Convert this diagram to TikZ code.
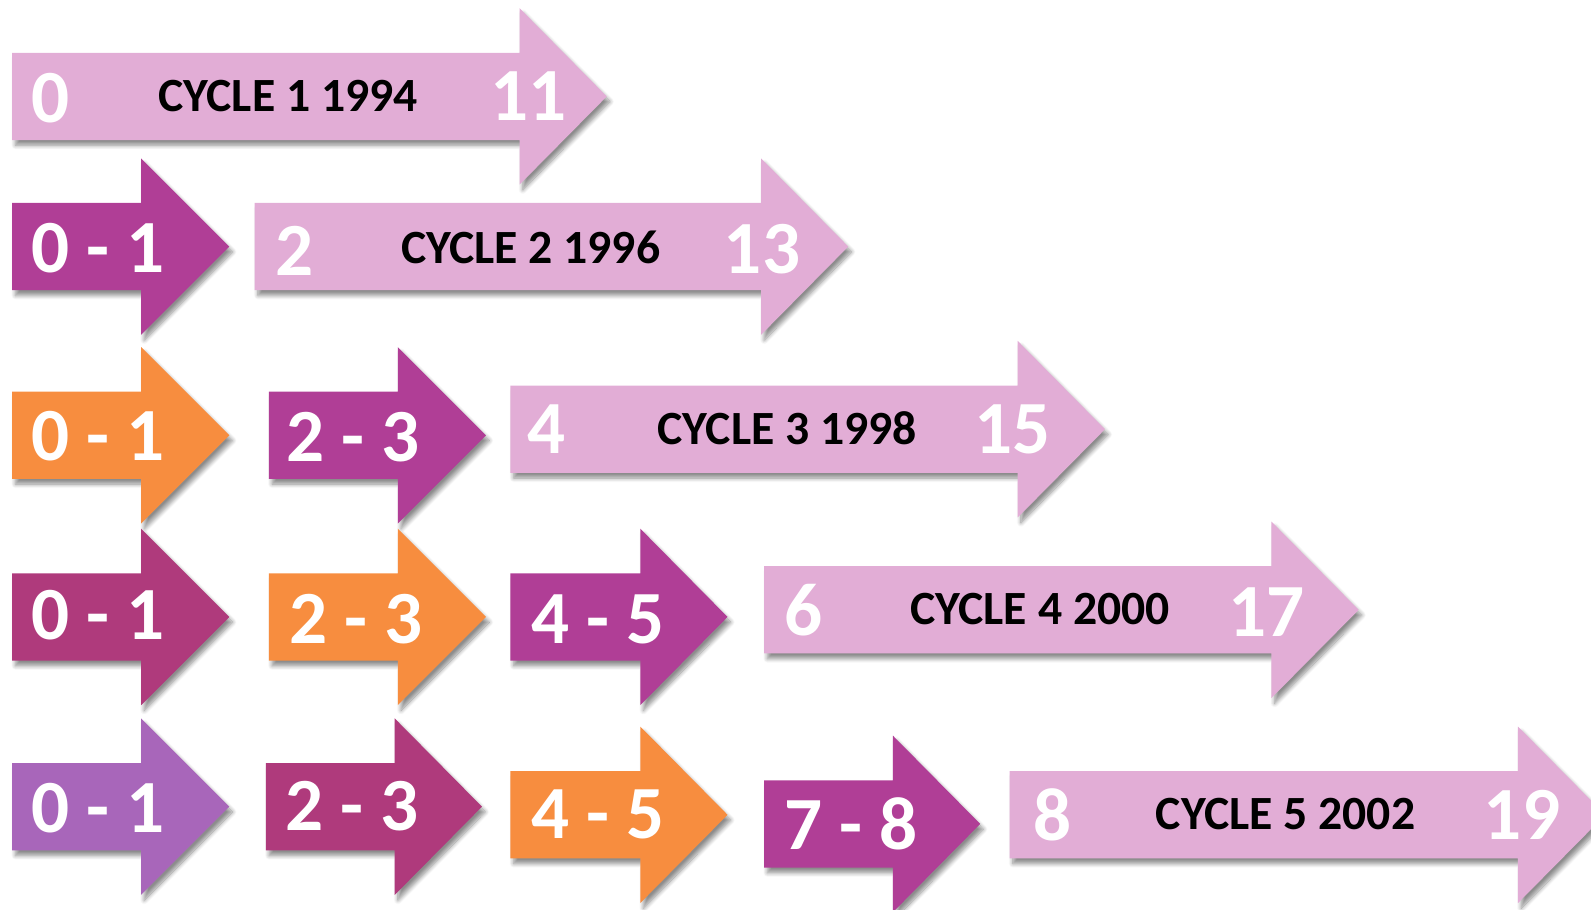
\documentclass[tikz,border=0pt]{standalone}
\usepackage{fontspec}
\setmainfont{Carlito}
\usetikzlibrary{shadows.blur}

\definecolor{lightpink}{HTML}{E2ADD6}
\definecolor{plum}{HTML}{B03E96}
\definecolor{berry}{HTML}{AF3A7C}
\definecolor{tangerine}{HTML}{F78D3F}
\definecolor{lilac}{HTML}{A866BA}

\tikzset{
  arrowfill/.style={fill=#1, draw=none,
    blur shadow={shadow xshift=1.6pt, shadow yshift=-2.6pt,
                 shadow blur radius=2pt, shadow blur steps=8, shadow opacity=45}},
  numlabel/.style={text=white, font=\bfseries\fontsize{37}{37}\selectfont, inner sep=0pt},
  cyclelabel/.style={text=black, font=\bfseries\fontsize{23.5}{23.5}\selectfont, inner sep=0pt},
}

% block arrow: fill colour, left end, head start, tip, centre line
\newcommand\blockarrow[5]{%
  \path[arrowfill=#1] (#2,#5-43) -- (#3,#5-43) -- (#3,#5-87) -- (#4,#5)
    -- (#3,#5+87) -- (#3,#5+43) -- (#2,#5+43) -- cycle;}

\begin{document}
\begin{tikzpicture}[x=0.5pt, y=-0.5pt]
\useasboundingbox (0,0) rectangle (1568,896);

% ---- cycle 1
\blockarrow{lightpink}{12}{512}{598}{95}
\node[numlabel]   (c1s) at (50,97)  {0};
\node[cyclelabel] (c1t) at (284,95) {CYCLE 1 1994};
\node[numlabel]   (c1e) at (521,95) {11};

% ---- cycle 2
\blockarrow{plum}{12}{139}{226}{243}
\node[numlabel] (r2a) at (97,245) {0 - 1};
\blockarrow{lightpink}{251}{750}{836}{243}
\node[numlabel]   (c2s) at (290,247) {2};
\node[cyclelabel] (c2t) at (523,244) {CYCLE 2 1996};
\node[numlabel]   (c2e) at (751,246) {13};

% ---- cycle 3
\blockarrow{tangerine}{12}{139}{226}{429}
\node[numlabel] (r3a) at (97,430) {0 - 1};
\blockarrow{plum}{265}{392}{479}{429}
\node[numlabel] (r3b) at (348,431) {2 - 3};
\blockarrow{lightpink}{503}{1003}{1089}{423}
\node[numlabel]   (c3s) at (539,423) {4};
\node[cyclelabel] (c3t) at (776,422) {CYCLE 3 1998};
\node[numlabel]   (c3e) at (998,423) {15};

% ---- cycle 4
\blockarrow{berry}{12}{139}{226}{608}
\node[numlabel] (r4a) at (97,606) {0 - 1};
\blockarrow{tangerine}{265}{392}{479}{608}
\node[numlabel] (r4b) at (351,610) {2 - 3};
\blockarrow{plum}{503}{631}{717}{608}
\node[numlabel] (r4c) at (589,610) {4 - 5};
\blockarrow{lightpink}{753}{1253}{1339}{601}
\node[numlabel]   (c4s) at (792,601) {6};
\node[cyclelabel] (c4t) at (1025,600) {CYCLE 4 2000};
\node[numlabel]   (c4e) at (1248,603) {17};

% ---- cycle 5
\blockarrow{lilac}{12}{139}{226}{795}
\node[numlabel] (r5a) at (97,796) {0 - 1};
\blockarrow{berry}{262}{389}{475}{795}
\node[numlabel] (r5b) at (347,794) {2 - 3};
\blockarrow{tangerine}{503}{631}{717}{803}
\node[numlabel] (r5c) at (589,803) {4 - 5};
\blockarrow{plum}{753}{880}{966}{812}
\node[numlabel] (r5d) at (839,812) {7 - 8};
\blockarrow{lightpink}{995}{1496}{1582}{803}
\node[numlabel]   (c5s) at (1037,803) {8};
\node[cyclelabel] (c5t) at (1267,802) {CYCLE 5 2002};
\node[numlabel]   (c5e) at (1500,803) {19};
\end{tikzpicture}
\end{document}
